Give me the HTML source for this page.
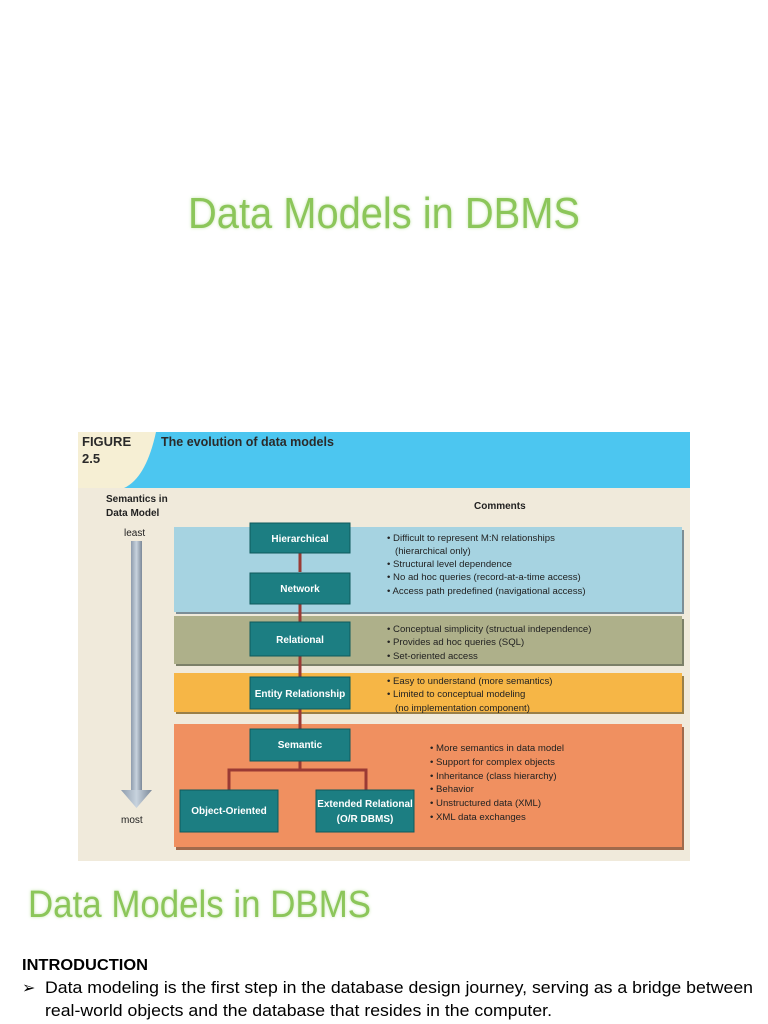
<!DOCTYPE html>
<html><head><meta charset="utf-8"><style>html,body{margin:0;padding:0;background:#fff}svg{display:block}</style></head><body>
<svg width="768" height="1024" viewBox="0 0 768 1024" xmlns="http://www.w3.org/2000/svg" font-family="Liberation Sans, sans-serif">
<defs>
<filter id="glow" x="-10%" y="-30%" width="120%" height="160%"><feGaussianBlur stdDeviation="1.5" in="SourceAlpha" result="b"/><feFlood flood-color="#c9e8b0"/><feComposite in2="b" operator="in"/><feMerge><feMergeNode/><feMergeNode in="SourceGraphic"/></feMerge></filter>
<linearGradient id="ar" x1="0" x2="1"><stop offset="0" stop-color="#8e9cad"/><stop offset="0.5" stop-color="#c8d3de"/><stop offset="1" stop-color="#7b8898"/></linearGradient>
</defs>
<text x="188" y="228" font-size="44" fill="#8cc65a" textLength="392" lengthAdjust="spacingAndGlyphs" filter="url(#glow)">Data Models in DBMS</text>

<!-- figure -->
<rect x="78" y="432" width="612" height="429" fill="#f0eadb"/>
<rect x="78" y="432" width="612" height="56" fill="#4cc6f0"/>
<path d="M78 432 H156 Q146 478 124 488 H78 Z" fill="#f6efd4"/>
<text x="82" y="446" font-size="13" font-weight="bold" fill="#2a2a2a">FIGURE</text>
<text x="82" y="463" font-size="13" font-weight="bold" fill="#2a2a2a">2.5</text>
<text x="161" y="446" font-size="12.5" font-weight="bold" fill="#2a2a2a">The evolution of data models</text>
<text x="106" y="502" font-size="10" fill="#222" font-weight="bold">Semantics in</text>
<text x="106" y="516" font-size="10" fill="#222" font-weight="bold">Data Model</text>
<text x="124" y="536" font-size="10" fill="#222">least</text>
<text x="121" y="823" font-size="10" fill="#222">most</text>
<text x="474" y="509" font-size="10" fill="#222" font-weight="bold">Comments</text>
<!-- arrow -->
<rect x="131" y="541" width="11" height="252" fill="url(#ar)"/>
<path d="M121 790 L152 790 L136.5 808 Z" fill="url(#ar)"/>
<!-- bands -->
<rect x="176" y="530" width="508" height="84" fill="#7c8e96"/>
<rect x="174" y="527" width="508" height="85" fill="#a6d3e1"/>
<rect x="176" y="619" width="508" height="47" fill="#7c8068"/>
<rect x="174" y="616" width="508" height="48" fill="#aeb08a"/>
<rect x="176" y="676" width="508" height="38" fill="#9a8048"/>
<rect x="174" y="673" width="508" height="39" fill="#f6b646"/>
<rect x="176" y="727" width="508" height="123" fill="#a06a4c"/>
<rect x="174" y="724" width="508" height="123" fill="#f09060"/>
<!-- connectors -->
<g stroke="#9a3a34" stroke-width="3" fill="none">
<line x1="300" y1="553" x2="300" y2="572"/><line x1="300" y1="604" x2="300" y2="622"/>
<line x1="300" y1="656" x2="300" y2="677"/><line x1="300" y1="709" x2="300" y2="729"/>
<path d="M300 761 V770 M229 790 V770 H366 V790"/>
</g>
<!-- boxes -->
<g fill="#1c7e82" stroke="#0e5a5c" stroke-width="1">
<rect x="250" y="523" width="100" height="30"/><rect x="250" y="573" width="100" height="31"/>
<rect x="250" y="622" width="100" height="34"/><rect x="250" y="677" width="100" height="32"/>
<rect x="250" y="729" width="100" height="32"/><rect x="180" y="790" width="98" height="42"/>
<rect x="316" y="790" width="98" height="42"/>
</g>
<g fill="#fff" font-size="10" font-weight="bold" text-anchor="middle">
<text x="300" y="542">Hierarchical</text><text x="300" y="592">Network</text>
<text x="300" y="643">Relational</text><text x="300" y="697">Entity Relationship</text>
<text x="300" y="748">Semantic</text><text x="229" y="814">Object-Oriented</text>
<text x="365" y="807">Extended Relational</text><text x="365" y="822">(O/R DBMS)</text>
</g>
<g fill="#222" font-size="9.6">
<text x="387" y="541">• Difficult to represent M:N relationships</text>
<text x="395" y="554">(hierarchical only)</text>
<text x="387" y="567">• Structural level dependence</text>
<text x="387" y="580">• No ad hoc queries (record-at-a-time access)</text>
<text x="387" y="594">• Access path predefined (navigational access)</text>
<text x="387" y="632">• Conceptual simplicity (structual independence)</text>
<text x="387" y="645">• Provides ad hoc queries (SQL)</text>
<text x="387" y="659">• Set-oriented access</text>
<text x="387" y="684">• Easy to understand (more semantics)</text>
<text x="387" y="697">• Limited to conceptual modeling</text>
<text x="395" y="711">(no implementation component)</text>
<text x="430" y="751">• More semantics in data model</text>
<text x="430" y="765">• Support for complex objects</text>
<text x="430" y="779">• Inheritance (class hierarchy)</text>
<text x="430" y="792">• Behavior</text>
<text x="430" y="806">• Unstructured data (XML)</text>
<text x="430" y="820">• XML data exchanges</text>
</g>

<text x="28" y="917" font-size="38" fill="#8cc65a" textLength="343" lengthAdjust="spacingAndGlyphs" filter="url(#glow)">Data Models in DBMS</text>
<text x="22" y="970" font-size="16" font-weight="bold" fill="#000" textLength="126" lengthAdjust="spacingAndGlyphs">INTRODUCTION</text>
<text x="22" y="993" font-size="16" fill="#000">➢</text>
<text x="45" y="993" font-size="17" fill="#000" textLength="708" lengthAdjust="spacingAndGlyphs">Data modeling is the first step in the database design journey, serving as a bridge between</text>
<text x="45" y="1016" font-size="17" fill="#000" textLength="507" lengthAdjust="spacingAndGlyphs">real-world objects and the database that resides in the computer.</text>
</svg>
</body></html>
